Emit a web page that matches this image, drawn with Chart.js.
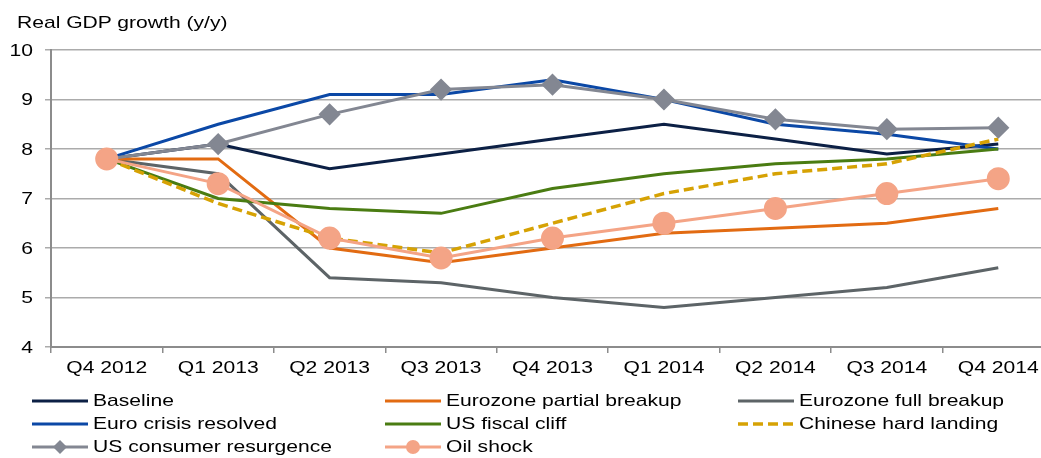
<!DOCTYPE html>
<html>
<head>
<meta charset="utf-8">
<script src="https://cdn.jsdelivr.net/npm/chart.js@4.4.1/dist/chart.umd.min.js"></script>
<style>
  html, body { margin: 0; padding: 0; background: #fff; overflow: hidden; }
  #wrap { position: relative; width: 1041px; height: 458px; overflow: hidden; }
  #gdpChart { display: block; }
  #ytitle { position: absolute; left: 17px; top: 13px; font: 17px "Liberation Sans", Arial, sans-serif; color: #000;
            transform: scaleX(1.24); transform-origin: 0 0; white-space: nowrap; }
</style>
</head>
<body>
<div id="wrap">
  <!-- canvas runs past the right edge: the original plot is cut off there -->
  <canvas id="gdpChart" width="1067" height="458"></canvas>
  <div id="ytitle">Real GDP growth (y/y)</div>
</div>
<script>
// --- DATA ---
const quarters = ["Q4 2012", "Q1 2013", "Q2 2013", "Q3 2013", "Q4 2013", "Q1 2014", "Q2 2014", "Q3 2014", "Q4 2014"];
const baseline = [7.8, 8.1, 7.6, 7.9, 8.2, 8.5, 8.2, 7.9, 8.1];
const ezPartial = [7.8, 7.8, 6.0, 5.7, 6.0, 6.3, 6.4, 6.5, 6.8];
const ezFull = [7.8, 7.5, 5.4, 5.3, 5.0, 4.8, 5.0, 5.2, 5.6];
const euroResolved = [7.8, 8.5, 9.1, 9.1, 9.4, 9.0, 8.5, 8.3, 8.0];
const usCliff = [7.8, 7.0, 6.8, 6.7, 7.2, 7.5, 7.7, 7.8, 8.0];
const chinaHard = [7.8, 6.9, 6.2, 5.9, 6.5, 7.1, 7.5, 7.7, 8.2];
const usConsumer = [7.8, 8.1, 8.7, 9.2, 9.3, 9.0, 8.6, 8.4, 8.43];
const oilShock = [7.8, 7.3, 6.2, 5.8, 6.2, 6.5, 6.8, 7.1, 7.4];
const yTicks = [4, 5, 6, 7, 8, 9, 10];

const FONT = '"Liberation Sans", Arial, sans-serif';
const STRETCH = 1.24; // the original text is set wide

function line(label, data, color, extra) {
    return Object.assign({
        label: label,
        data: data,
        borderColor: color,
        backgroundColor: color,
        borderWidth: 3,
        pointRadius: 0,
        tension: 0,
        fill: false
    }, extra || {});
}

// draw order: lower "order" is drawn on top
const datasets = [
    line("Baseline", baseline, "#0c2045", { order: 8 }),
    line("Eurozone partial breakup", ezPartial, "#e26b12", { order: 5 }),
    line("Eurozone full breakup", ezFull, "#5d6467", { order: 7 }),
    line("Euro crisis resolved", euroResolved, "#0b48a6", { order: 6 }),
    line("US fiscal cliff", usCliff, "#4a7c12", { order: 4 }),
    line("Chinese hard landing", chinaHard, "#d6a204", { order: 3, borderWidth: 3.5, borderDash: [10, 5] }),
    line("US consumer resurgence", usConsumer, "#838792", { order: 2, pointStyle: "rectRot", pointRadius: 9, pointHoverRadius: 9 }),
    line("Oil shock", oilShock, "#f4a486", { order: 1, pointStyle: "circle", pointRadius: 10, pointHoverRadius: 10 })
];

// wide text helper
function wideText(ctx, text, x, y, align) {
    const w = ctx.measureText(text).width * STRETCH;
    let left = x;
    if (align === "center") left = x - w / 2;
    if (align === "right") left = x - w;
    ctx.save();
    ctx.translate(left, y);
    ctx.scale(STRETCH, 1);
    ctx.textAlign = "left";
    ctx.fillText(text, 0, 0);
    ctx.restore();
}

// --- TICK LABELS (positions from the chart's own scales) ---
const tickLabelPlugin = {
    id: "wideTicks",
    afterDraw(chart) {
        const ctx = chart.ctx;
        const xs = chart.scales.x, ys = chart.scales.y;
        ctx.save();
        ctx.font = "17px " + FONT;
        ctx.fillStyle = "#000";
        ctx.textBaseline = "middle";
        xs.ticks.forEach((t, i) => {
            wideText(ctx, xs.getLabelForValue(t.value), xs.getPixelForTick(i), 368, "center");
        });
        ys.ticks.forEach(t => {
            wideText(ctx, String(t.value), 33, ys.getPixelForValue(t.value) + 1, "right");
        });
        ctx.restore();
    }
};

// --- LEGEND (3 columns, drawn from the datasets) ---
const legendPlugin = {
    id: "gridLegend",
    afterDraw(chart) {
        const ctx = chart.ctx;
        const cols = [32, 385, 738];
        const rows = [401, 424, 447];
        ctx.save();
        ctx.font = "17px " + FONT;
        ctx.textBaseline = "middle";
        chart.data.datasets.forEach((ds, i) => {
            const x = cols[i % 3], y = rows[Math.floor(i / 3)];
            ctx.strokeStyle = ds.borderColor;
            ctx.lineWidth = ds.borderWidth;
            ctx.setLineDash(ds.borderDash || []);
            ctx.beginPath();
            ctx.moveTo(x, y);
            ctx.lineTo(x + 56, y);
            ctx.stroke();
            ctx.setLineDash([]);
            if (ds.pointRadius > 0) {
                ctx.fillStyle = ds.borderColor;
                const cx = x + 28;
                ctx.beginPath();
                if (ds.pointStyle === "rectRot") {
                    ctx.moveTo(cx, y - 7); ctx.lineTo(cx + 7, y); ctx.lineTo(cx, y + 7); ctx.lineTo(cx - 7, y);
                } else {
                    ctx.arc(cx, y, 7, 0, Math.PI * 2);
                }
                ctx.closePath();
                ctx.fill();
            }
            ctx.fillStyle = "#000";
            wideText(ctx, ds.label, x + 61, y, "left");
        });
        ctx.restore();
    }
};

new Chart(document.getElementById("gdpChart"), {
    type: "line",
    data: { labels: quarters, datasets: datasets },
    options: {
        responsive: false,
        animation: false,
        layout: { padding: { top: 50, bottom: 81, left: 0, right: 0 } },
        plugins: { legend: { display: false }, tooltip: { enabled: false } },
        scales: {
            x: {
                offset: true,
                grid: { offset: true, drawOnChartArea: false, drawTicks: true, tickLength: 6, color: "#8c8c8c", lineWidth: 1.5 },
                border: { color: "#8c8c8c", width: 2 },
                ticks: { display: false, autoSkip: false },
                afterFit(scale) { scale.height = 30; }
            },
            y: {
                min: 4, max: 10,
                afterBuildTicks(scale) { scale.ticks = yTicks.map(v => ({ value: v })); },
                grid: { color: "#ababab", lineWidth: 1.5, drawTicks: true, tickLength: 6 },
                border: { color: "#8c8c8c", width: 2 },
                ticks: { display: false },
                afterFit(scale) { scale.width = 51; }
            }
        }
    },
    plugins: [tickLabelPlugin, legendPlugin]
});
</script>
</body>
</html>
